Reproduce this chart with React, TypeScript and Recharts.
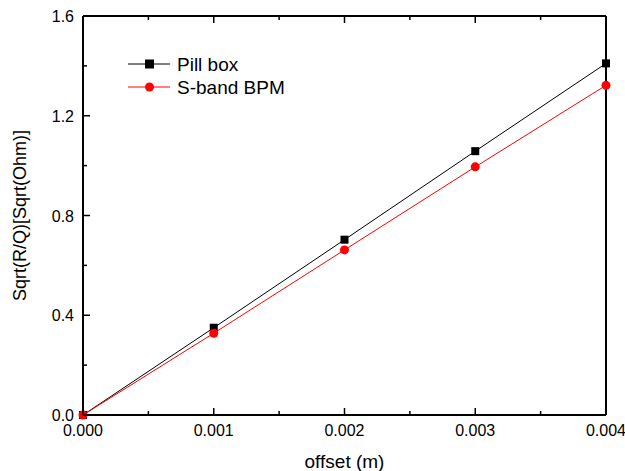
import React from "react";
import { LineChart, Line, XAxis, YAxis } from "recharts";

const offsets = [0, 0.001, 0.002, 0.003, 0.004];
const pillBox = [0, 0.35, 0.703, 1.058, 1.41];
const sBand = [0, 0.328, 0.662, 0.995, 1.322];
const xTicks = [0, 0.0005, 0.001, 0.0015, 0.002, 0.0025, 0.003, 0.0035, 0.004];
const yTicks = [0, 0.2, 0.4, 0.6, 0.8, 1.0, 1.2, 1.4, 1.6];

const data = offsets.map((x, i) => ({ x, pill: pillBox[i], sband: sBand[i] }));

const FONT = "'Liberation Sans', Arial, sans-serif";

const isMajorX = (v: number) => Math.abs(Math.round(v * 1000) - v * 1000) < 1e-9;
const isMajorY = (v: number) => Math.abs(Math.round(v * 2.5) - v * 2.5) < 1e-9;

function XTick(props: any) {
  const { x, y, payload, orientation } = props;
  const major = isMajorX(payload.value);
  const len = major ? 7 : 4;
  const top = orientation === "top";
  return (
    <g>
      <line x1={x} x2={x} y1={y} y2={top ? y + len : y - len} stroke="#000" strokeWidth={1.5} />
      {!top && major && (
        <text x={x} y={y + 21} textAnchor="middle" fontSize={16} fontFamily={FONT} fill="#000">
          {payload.value.toFixed(3)}
        </text>
      )}
    </g>
  );
}

function YTick(props: any) {
  const { x, y, payload, orientation } = props;
  const major = isMajorY(payload.value);
  const len = major ? 7 : 4;
  const right = orientation === "right";
  return (
    <g>
      <line x1={x} x2={right ? x - len : x + len} y1={y} y2={y} stroke="#000" strokeWidth={1.5} />
      {!right && major && (
        <text x={x - 9} y={y + 6} textAnchor="end" fontSize={16} fontFamily={FONT} fill="#000">
          {payload.value.toFixed(1)}
        </text>
      )}
    </g>
  );
}

const Square = (props: any) => {
  const { cx, cy } = props;
  return <rect x={cx - 4} y={cy - 4} width={8} height={8} fill="#000" />;
};
const Dot = (props: any) => {
  const { cx, cy } = props;
  return <circle cx={cx} cy={cy} r={4.5} fill="#ff0000" />;
};

function LegendBox() {
  const rows = [
    { name: "Pill box", color: "#000", shape: "square" },
    { name: "S-band BPM", color: "#ff0000", shape: "circle" },
  ];
  return (
    <svg width={220} height={50} style={{ position: "absolute", left: 128, top: 55 }}>
      {rows.map((r, i) => {
        const cy = 9 + i * 23;
        return (
          <g key={r.name}>
            <line x1={0} x2={42} y1={cy} y2={cy} stroke={r.color} strokeWidth={1} />
            {r.shape === "square" ? (
              <rect x={17} y={cy - 4.5} width={9} height={9} fill={r.color} />
            ) : (
              <circle cx={21.5} cy={cy} r={4.5} fill={r.color} />
            )}
            <text x={49} y={cy + 7} fontSize={19} fontFamily={FONT} fill="#000">
              {r.name}
            </text>
          </g>
        );
      })}
    </svg>
  );
}

export default function App() {
  return (
    <div style={{ position: "absolute", left: 0, top: 0, width: 625, height: 471, background: "#fff" }}>
      <LineChart width={625} height={471} data={data} margin={{ top: 15, right: 18, bottom: 0, left: 0 }}>
        <XAxis
          xAxisId="b"
          dataKey="x"
          type="number"
          domain={[0, 0.004]}
          ticks={xTicks}
          interval={0}
          height={56}
          tickSize={0}
          tickMargin={0}
          tickLine={false}
          axisLine={{ stroke: "#000", strokeWidth: 2 }}
          tick={<XTick orientation="bottom" />}
          label={{ value: "offset (m)", position: "insideBottom", offset: 3, fontSize: 19, fontFamily: FONT, fill: "#000" }}
        />
        <XAxis
          xAxisId="t"
          orientation="top"
          dataKey="x"
          type="number"
          domain={[0, 0.004]}
          ticks={xTicks}
          interval={0}
          height={1}
          tickSize={0}
          tickMargin={0}
          tickLine={false}
          axisLine={{ stroke: "#000", strokeWidth: 2 }}
          tick={<XTick orientation="top" />}
        />
        <YAxis
          yAxisId="l"
          type="number"
          domain={[0, 1.6]}
          ticks={yTicks}
          interval={0}
          width={83}
          tickSize={0}
          tickMargin={0}
          tickLine={false}
          axisLine={{ stroke: "#000", strokeWidth: 2 }}
          tick={<YTick orientation="left" />}
          label={{ value: "Sqrt(R/Q)[Sqrt(Ohm)]", angle: -90, position: "insideLeft", offset: 20, fontSize: 18, fontFamily: FONT, fill: "#000", style: { textAnchor: "middle" } }}
        />
        <YAxis
          yAxisId="r"
          orientation="right"
          type="number"
          domain={[0, 1.6]}
          ticks={yTicks}
          interval={0}
          width={1}
          tickSize={0}
          tickMargin={0}
          tickLine={false}
          axisLine={{ stroke: "#000", strokeWidth: 2 }}
          tick={<YTick orientation="right" />}
        />
        <Line
          xAxisId="b"
          yAxisId="l"
          dataKey="pill"
          stroke="#000"
          strokeWidth={1}
          dot={<Square />}
          activeDot={false}
          isAnimationActive={false}
        />
        <Line
          xAxisId="b"
          yAxisId="l"
          dataKey="sband"
          stroke="#ff0000"
          strokeWidth={1}
          dot={<Dot />}
          activeDot={false}
          isAnimationActive={false}
        />
      </LineChart>
      <LegendBox />
    </div>
  );
}
